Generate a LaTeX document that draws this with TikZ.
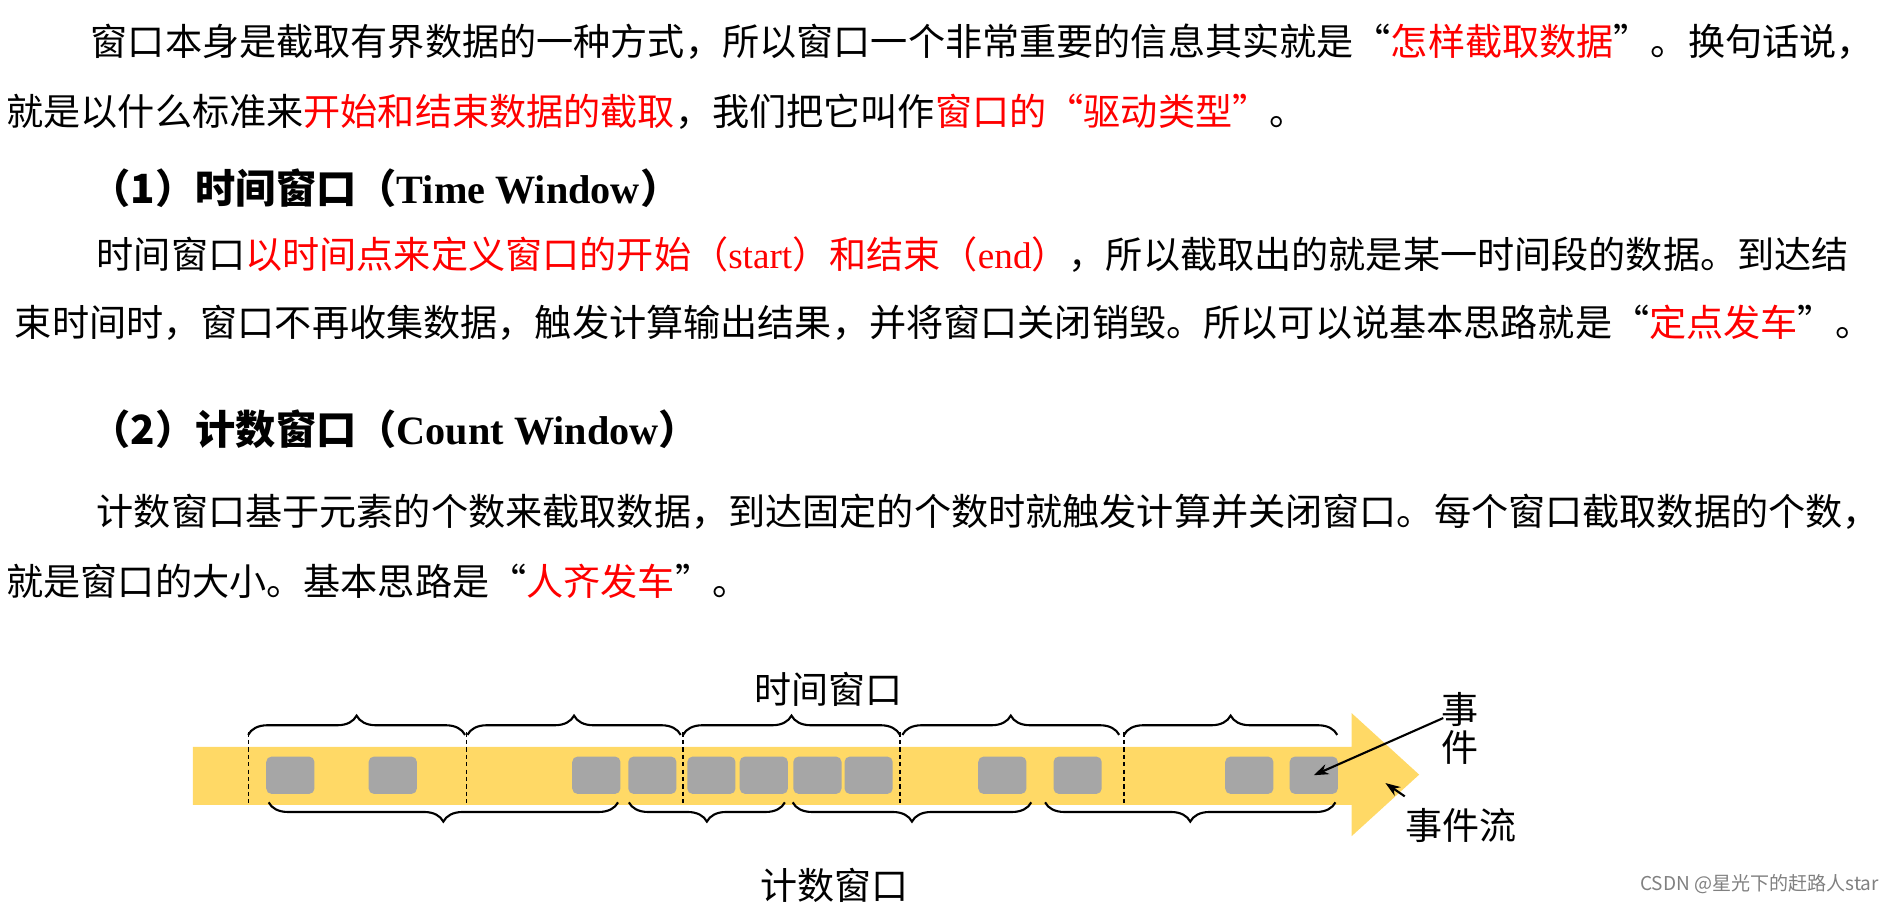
\documentclass[tikz,border=0pt]{standalone}
\usepackage{fontspec}
\setmainfont{Liberation Serif}
\newfontfamily\cjk{Noto Sans CJK SC}
\usetikzlibrary{decorations.pathreplacing,arrows.meta}
\definecolor{band}{HTML}{FFD966}
\definecolor{ev}{HTML}{A6A6A6}
\definecolor{hl}{HTML}{FF0000}
\newcommand{\hr}[1]{\textcolor{hl}{#1}}
\begin{document}
\begin{tikzpicture}[x=0.02cm,y=-0.02cm,
  txt/.style={anchor=base west,inner sep=0,font=\fontsize{17.55}{20}\selectfont\cjk},
  hd/.style={anchor=base west,inner sep=0,font=\fontsize{19}{20}\selectfont\bfseries},
  lbl/.style={inner sep=0,font=\fontsize{17.5}{20}\selectfont\cjk},
  evt/.style={fill=ev,rounded corners=2.5pt},
  dl/.style={line width=0.6pt,dash pattern=on 2pt off 1.5pt},
  topb/.style={decorate,decoration={brace,amplitude=0.32cm},line width=1pt},
  ]
\useasboundingbox (0,0) rectangle (1568,753);
% text
\node[txt] (l1) at (75,46) {窗口本身是截取有界数据的一种方式，所以窗口一个非常重要的信息其实就是“\hr{怎样截取数据}”。换句话说，};
\node[txt] (l2) at (5,104) {就是以什么标准来\hr{开始和结束数据的截取}，我们把它叫作\hr{窗口的“驱动类型”}。};
\node[hd] (h1) at (75,169) {{\cjk （1）时间窗口（}Time Window{\cjk ）}};
\node[txt] (l3) at (80,223) {时间窗口\hr{以时间点来定义窗口的开始（{\rmfamily start}）和结束（{\rmfamily end}）}，所以截取出的就是某一时间段的数据。到达结};
\node[txt] (l4) at (12,279) {束时间时，窗口不再收集数据，触发计算输出结果，并将窗口关闭销毁。所以可以说基本思路就是“\hr{定点发车}”。};
\node[hd] (h2) at (75,369) {{\cjk （2）计数窗口（}Count Window{\cjk ）}};
\node[txt] (l5) at (80,436) {计数窗口基于元素的个数来截取数据，到达固定的个数时就触发计算并关闭窗口。每个窗口截取数据的个数，};
\node[txt] (l6) at (5,494) {就是窗口的大小。基本思路是“\hr{人齐发车}”。};
% band arrow
\fill[band] (160,620) -- (1122,620) -- (1122,592) -- (1178,643) -- (1122,694) -- (1122,668) -- (160,668) -- cycle;
\coordinate (tip) at (1150,650);
% dashed separators
\foreach \x in {206,387,567,747,933} \draw[dl] (\x,608) -- (\x,668);
% events
\foreach[count=\i] \a/\b in {221/261,306/346,475/515,521.5/561.5,570.5/610.5,614/654,658.5/698.5,701/741,812/852,874.5/914.5,1017/1057,1070.5/1110.5}
  \node[evt,minimum width={(\b-\a)*0.02cm},minimum height=0.62cm] (e\i) at ({(\a+\b)/2},643.5) {};
% top braces
\foreach \a/\b in {206/386,388/565,567/747,749/929,933/1110}
  \draw[topb] (\a,610) -- (\b,610);
% bottom braces
\foreach \a/\b in {223/513,522/651.5,658/856,867.5/1108.5}
  \draw[topb] (\b,666) -- (\a,666);
% labels
\node[lbl] (tw) at (688,572) {时间窗口};
\node[lbl] (cw) at (693,735) {计数窗口};
\node[lbl,align=center] (sj) at (1212,605) {事\\[-2pt]件};
\node[lbl] (sjl) at (1213,685) {事件流};
\draw[-{Stealth[length=7pt,width=5pt]},line width=1pt] (1198,596) -- (e12.center);
\draw[-{Stealth[length=7pt,width=5pt]},line width=1pt] (1166,661) -- (tip);
\node[inner sep=0,anchor=east,text=gray,font=\fontsize{9}{10}\selectfont\cjk] (wm) at (1560,734) {CSDN @星光下的赶路人star};
\end{tikzpicture}
\end{document}
